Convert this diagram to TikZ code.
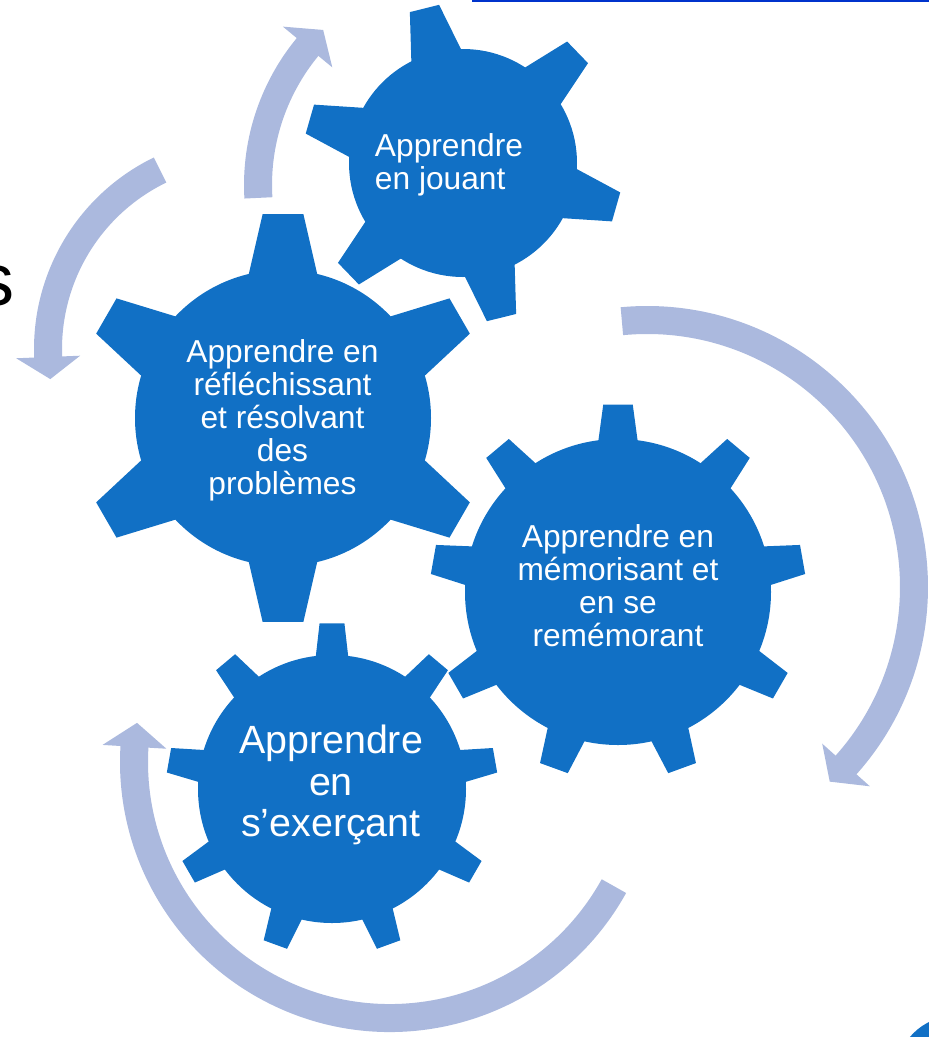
\documentclass[tikz,border=0pt]{standalone}
\usepackage{fontspec}
\setmainfont{Liberation Sans}
\definecolor{gearblue}{RGB}{17,112,197}
\definecolor{arrowblue}{RGB}{171,185,222}
\definecolor{lineblue}{RGB}{0,51,204}
% #1 cx, #2 cy (image px), #3 body radius, #4 tip radius, #5 teeth, #6 offset, #7 tip half-angle, #8 base half-angle
\newcommand{\mygear}[8]{%
  \begin{scope}[shift={(#1,-#2)}]
    \fill[gearblue] (0,0) circle[radius=#3];
    \foreach \k in {1,...,#5}{%
      \pgfmathsetmacro\ang{#6+360/#5*\k}
      \fill[gearblue] ({\ang-#8}:{#3-8}) -- ({\ang-#7}:#4) -- ({\ang+#7}:#4) -- ({\ang+#8}:{#3-8}) -- cycle;
    }
  \end{scope}}
% #1 cx, #2 cy, #3 radius, #4 start angle, #5 head base angle, #6 tip angle
\newcommand{\myarrow}[6]{%
  \begin{scope}[shift={(#1,-#2)}]
    \pgfmathsetmacro\bend{#5+(#6-#5)*0.3}
    \draw[arrowband] (#4:#3) arc[start angle=#4, end angle=\bend, radius=#3];
    \fill[arrowblue] (#5:{#3-32}) -- (#5:{#3+32}) -- (#6:#3) -- cycle;
  \end{scope}}
\begin{document}
\begin{tikzpicture}[x=1pt,y=1pt,
  arrowband/.style={draw=arrowblue, line width=28pt},
  geartext/.style={text=white, inner sep=0pt, font=\fontsize{31.7}{33}\selectfont, align=center},
  bigtext/.style={text=white, inner sep=0pt, font=\fontsize{39.4}{41.5}\selectfont, align=center}]
\useasboundingbox (0,0) rectangle (929,-1037);
% top rule and partial title letter
\draw[lineblue, line width=1.6pt] (472,-0.8) -- (929,-0.8);
\node[font=\fontsize{74}{80}\selectfont, anchor=base east, inner sep=0pt] (ttl) at (14.5,-305.5) {s};
% circular arrows
\myarrow{475}{185}{217}{183.4}{140.5}{134.4}
\myarrow{247}{349}{199}{115.9}{182.3}{188.7}
\myarrow{647}{587}{267}{95.4}{-41.8}{-46.8}
\myarrow{390}{762}{256}{-29}{-183.4}{-188.8}
% gears
\mygear{463}{163}{114}{160}{6}{44}{5.4}{15}
\mygear{283}{418}{148}{205}{6}{30}{5.7}{15}
\mygear{618}{592}{153}{188}{9}{10}{4.5}{8.2}
\mygear{332}{789}{134}{166}{9}{10}{4.3}{7.8}
\fill[gearblue] (955,-1075) circle[radius=59];
% texts
\node[geartext, align=left] (g1) at (449,-164.5) {Apprendre\\en jouant};
\node[geartext] (g2) at (282.5,-420) {Apprendre en\\réfléchissant\\et résolvant\\des\\problèmes};
\node[geartext] (g3) at (618,-586) {Apprendre en\\mémorisant et\\en se\\remémorant};
\node[bigtext] (g4) at (331,-785) {Apprendre\\en\\s’exerçant};
\end{tikzpicture}
\end{document}
